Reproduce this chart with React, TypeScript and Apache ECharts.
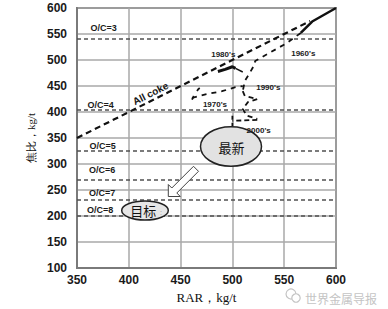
import React, { useEffect, useRef } from "react";
import * as echarts from "echarts";

// Axis ranges / ticks
const xTicks = [350, 400, 450, 500, 550, 600];
const yTicks = [100, 150, 200, 250, 300, 350, 400, 450, 500, 550, 600];

// O/C reference lines (coke rate, kg/t)
const ocLabels = ["O/C=3", "O/C=4", "O/C=5", "O/C=6", "O/C=7", "O/C=8"];
const ocValues = [540, 405, 325, 270, 231, 201];

// All coke line (RAR = coke rate)
const allCokeRAR = [350, 575];
const allCokeCR = [350, 575];

// Historical trajectory pieces (RAR, coke rate)
const t1960sSolidRAR = [600, 577, 566];
const t1960sSolidCR = [600, 574, 552];
const t1960sDashRAR = [566, 552, 536, 522, 521, 517, 512, 510];
const t1960sDashCR = [552, 532, 514, 498, 490, 476, 460, 440];
const t1980sThickRAR = [486, 493, 500, 503];
const t1980sThickCR = [478, 482, 487, 484];
const t1980sThinRAR = [503, 510];
const t1980sThinCR = [484, 477];
const t1970sRAR = [461, 474, 490, 503, 510];
const t1970sCR = [427, 434, 440, 448, 450];
const t1970sBRAR = [461, 463, 467, 472];
const t1970sBCR = [424, 432, 444, 451];
const t1990sRAR = [510, 512, 524, 515, 510, 514, 524];
const t1990sCR = [440, 431, 425, 419, 406, 393, 387];
const t2000sRAR = [524, 500];
const t2000sCR = [385, 383];
const t2000sDownRAR = [500, 500];
const t2000sDownCR = [393, 372];

const zip = (xs: number[], ys: number[]) => xs.map((x, i) => [x, ys[i]]);

const W = 388;
const H = 309;

export default function App() {
  const ref = useRef<HTMLDivElement>(null);
  useEffect(() => {
    document.body.style.margin = "0";
    if (!ref.current) return;
    const chart = echarts.init(ref.current, undefined, { renderer: "svg" });
    const labelFont = { fontFamily: "Liberation Sans, Arial, sans-serif", fontWeight: "bold" as const };

    const line = (data: number[][], width: number, type: any) => ({
      type: "line",
      data,
      symbol: "none",
      silent: true,
      lineStyle: { color: "#111", width, type },
      z: 5,
    });

    const txt = (text: string, x: number, y: number, size: number, extra: any = {}) => ({
      type: "text",
      x,
      y,
      z: 100,
      ...extra,
      style: {
        text,
        fill: "#1a1a1a",
        fontSize: size,
        fontWeight: "bold",
        fontFamily: "Liberation Sans, Arial, sans-serif",
        align: "center",
        verticalAlign: "middle",
        textAlign: "center",
        textVerticalAlign: "middle",
        ...(extra.style || {}),
      },
    });

    const ocPos = [
      [103.5, 28],
      [100.7, 105],
      [102.5, 145.5],
      [102, 170],
      [102, 193],
      [100, 210],
    ];

    chart.setOption({
      animation: false,
      grid: {
        left: 77,
        right: 52,
        top: 8,
        bottom: 38,
        show: true,
        borderColor: "#7a7a7a",
        borderWidth: 2,
      },
      xAxis: {
        type: "value",
        min: xTicks[0],
        max: xTicks[xTicks.length - 1],
        interval: 50,
        name: "RAR，kg/t",
        nameLocation: "middle",
        nameGap: 20,
        nameTextStyle: { fontFamily: "Liberation Serif, Times New Roman, serif", fontSize: 13, color: "#111" },
        axisLine: { show: true, lineStyle: { color: "#7a7a7a", width: 2 } },
        axisTick: { show: false },
        axisLabel: { ...labelFont, fontSize: 12, color: "#1a1a1a", margin: 6 },
        splitLine: { show: true, lineStyle: { color: "#a8a8a8", width: 1.5 } },
      },
      yAxis: {
        type: "value",
        min: yTicks[0],
        max: yTicks[yTicks.length - 1],
        interval: 50,
        name: "焦比，kg/t",
        nameLocation: "middle",
        nameGap: 37,
        nameTextStyle: { fontFamily: "Liberation Serif, Times New Roman, serif", fontSize: 11, color: "#111" },
        axisLine: { show: true, lineStyle: { color: "#7a7a7a", width: 2 } },
        axisTick: { show: false },
        axisLabel: { ...labelFont, fontSize: 12, color: "#1a1a1a", margin: 10 },
        splitLine: { show: true, lineStyle: { color: "#a8a8a8", width: 1.5 } },
      },
      series: [
        {
          type: "line",
          data: [],
          markLine: {
            silent: true,
            symbol: "none",
            label: { show: false },
            lineStyle: { color: "#505050", width: 1.5, type: [4, 3] },
            data: ocValues.map((v) => ({ yAxis: v })),
          },
        },
        line(zip(allCokeRAR, allCokeCR), 2.2, [6, 4]),
        { ...line(zip(t1960sSolidRAR, t1960sSolidCR), 2.5, "solid") },
        line(zip(t1960sDashRAR, t1960sDashCR), 1.8, [5, 5]),
        line(zip(t1980sThickRAR, t1980sThickCR), 3, "solid"),
        line(zip(t1980sThinRAR, t1980sThinCR), 1.5, "solid"),
        line(zip(t1970sRAR, t1970sCR), 1.8, [5, 5]),
        line(zip(t1970sBRAR, t1970sBCR), 1.8, [4, 6]),
        line(zip(t1990sRAR, t1990sCR), 1.8, [5, 4]),
        line(zip(t2000sRAR, t2000sCR), 1.8, [5, 3]),
        line(zip(t2000sDownRAR, t2000sDownCR), 1.8, [4, 3]),
      ],
      graphic: [
        ...ocLabels.map((l, i) => txt(l, ocPos[i][0], ocPos[i][1], 9)),
        txt("All coke", 150.5, 93.5, 10, { rotation: (27 * Math.PI) / 180 }),
        txt("1980's", 223.3, 54, 8),
        txt("1960's", 303.3, 53.3, 8),
        txt("1990's", 268.3, 87.7, 8),
        txt("1970's", 215, 104, 8),
        txt("2000's", 258.7, 130.7, 8),
        {
          type: "ellipse",
          z: 90,
          shape: { cx: 231, cy: 146.5, rx: 30.5, ry: 19.8 },
          style: { fill: "#e2e2e2", stroke: "#222", lineWidth: 1.5 },
        },
        txt("最新", 231.5, 147, 13, {
          style: { fontWeight: "normal", fontFamily: "Noto Sans CJK SC, sans-serif", fill: "#111" },
        }),
        {
          type: "ellipse",
          z: 90,
          shape: { cx: 145, cy: 210.5, rx: 23.3, ry: 9.5 },
          style: { fill: "#e6e6e6", stroke: "#222", lineWidth: 1.5 },
        },
        txt("目标", 143.3, 210.5, 13, {
          style: { fontWeight: "normal", fontFamily: "Noto Sans CJK SC, sans-serif", fill: "#111" },
        }),
        txt(":", 161, 212, 7, { style: { fontWeight: "normal", fill: "#888" } }),
        {
          type: "polygon",
          z: 90,
          shape: {
            points: [
              [198.5, 171.3],
              [176.8, 193],
              [180.3, 196.5],
              [168.3, 196.5],
              [168.3, 184.5],
              [171.8, 188],
              [193.5, 166.3],
            ],
          },
          style: { fill: "#fff", stroke: "#444", lineWidth: 1 },
        },
        // watermark
        {
          type: "circle",
          z: 100,
          shape: { cx: 291, cy: 294, r: 5 },
          style: { fill: "none", stroke: "#c4c4c4", lineWidth: 1.2 },
        },
        {
          type: "circle",
          z: 100,
          shape: { cx: 296, cy: 298, r: 4.2 },
          style: { fill: "#fff", stroke: "#c4c4c4", lineWidth: 1.2 },
        },
        txt("世界金属导报", 341, 298, 12, {
          style: { fontWeight: "normal", fontFamily: "Noto Sans CJK SC, sans-serif", fill: "#c4c4c4" },
        }),
      ],
    });
    return () => chart.dispose();
  }, []);
  return <div ref={ref} style={{ width: W, height: H }} />;
}
